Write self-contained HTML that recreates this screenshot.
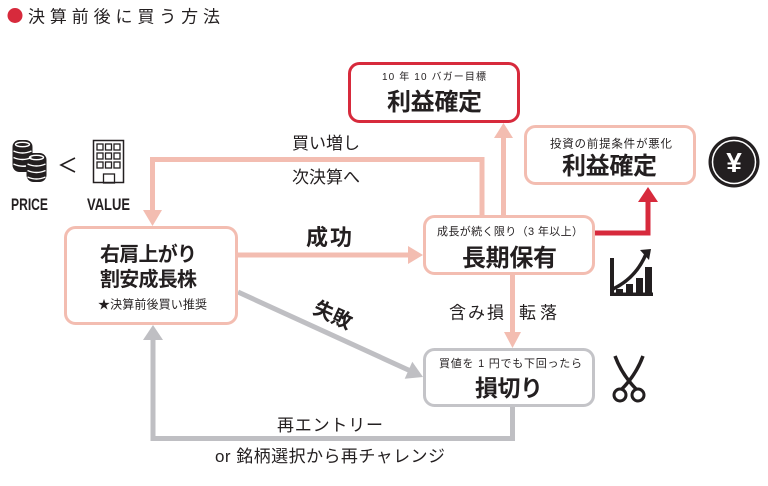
<!DOCTYPE html>
<html><head><meta charset="utf-8"><style>
html,body{margin:0;padding:0;background:#fff;}
svg{display:block;}
text{font-family:"Liberation Sans","Noto Sans CJK JP",sans-serif;fill:#231f20;}
</style></head><body>
<svg width="768" height="486" viewBox="0 0 768 486" xmlns="http://www.w3.org/2000/svg">
<!-- title -->
<circle cx="15" cy="15.5" r="7.5" fill="#d72a3c"/>
<text x="28" y="22.5" font-size="17" textLength="192" lengthAdjust="spacing">決算前後に買う方法</text>

<!-- coins icon -->
<g fill="#231f20">
  <rect x="12.5" y="140" width="20" height="32" rx="7"/>
  <rect x="26.5" y="153" width="20" height="29" rx="7"/>
</g>
<g fill="none" stroke="#fff" stroke-width="1.4">
  <ellipse cx="22.5" cy="144.5" rx="7" ry="2.2"/>
  <path d="M13.5 151 Q22.5 155 31.5 151 M13.5 157.5 Q22.5 161.5 31.5 157.5 M13.5 164 Q20 167 26 166"/>
  <ellipse cx="36.5" cy="157.5" rx="7" ry="2.2"/>
  <path d="M27.5 164 Q36.5 168 45.5 164 M27.5 170.5 Q36.5 174.5 45.5 170.5 M27.5 177 Q36.5 181 45.5 177"/>
</g>
<path d="M75 158 L61 165 L75 172" stroke="#231f20" stroke-width="1.6" fill="none"/>
<!-- building -->
<rect x="93.5" y="140.5" width="30" height="42" fill="none" stroke="#231f20" stroke-width="1.5"/>
<g fill="none" stroke="#231f20" stroke-width="1.3">
  <rect x="97" y="144" width="6" height="6"/><rect x="105.5" y="144" width="6" height="6"/><rect x="114" y="144" width="6" height="6"/>
  <rect x="97" y="153" width="6" height="6"/><rect x="105.5" y="153" width="6" height="6"/><rect x="114" y="153" width="6" height="6"/>
  <rect x="97" y="162" width="6" height="6"/><rect x="105.5" y="162" width="6" height="6"/><rect x="114" y="162" width="6" height="6"/>
  <rect x="103.5" y="174" width="11" height="9"/>
</g>
<text x="11" y="210" font-size="17" font-weight="bold" textLength="37" lengthAdjust="spacingAndGlyphs">PRICE</text>
<text x="87" y="210" font-size="17" font-weight="bold" textLength="43" lengthAdjust="spacingAndGlyphs">VALUE</text>

<!-- connectors pink -->
<g stroke="#f3bdb1" stroke-width="5" fill="none">
  <path d="M482 215 V159.5 H152.5 V211"/>
  <path d="M503.5 215 V137"/>
  <path d="M238 255 H409"/>
  <path d="M512.5 275 V333"/>
</g>
<g fill="#f3bdb1">
  <polygon points="143,210 162,210 152.5,226"/>
  <polygon points="494,138 513,138 503.5,123"/>
  <polygon points="408,246 408,264 423,255"/>
  <polygon points="504,332 521,332 512.5,348"/>
</g>
<!-- red connector -->
<path d="M595 233 H648 V201" stroke="#d72a3c" stroke-width="5" fill="none"/>
<polygon points="638,202 658,202 648,187" fill="#d72a3c"/>
<!-- gray connectors -->
<g stroke="#bfbfc3" stroke-width="5" fill="none">
  <path d="M238 292 L409.5 370.5"/>
  <path d="M512.5 407 V438.5 H153 V339"/>
</g>
<g fill="#bfbfc3">
  <polygon points="412.3,361.8 404.7,378.7 423,377"/>
  <polygon points="143,340 163,340 153,325"/>
</g>

<!-- boxes -->
<rect x="349.5" y="63.5" width="169" height="58" rx="10" fill="#fff" stroke="#d72a3c" stroke-width="3"/>
<rect x="525.5" y="126.5" width="169" height="57" rx="10" fill="#fff" stroke="#f3bdb1" stroke-width="3"/>
<rect x="424.5" y="216.5" width="169" height="57" rx="10" fill="#fff" stroke="#f3bdb1" stroke-width="3"/>
<rect x="424.5" y="349.5" width="169" height="56" rx="10" fill="#fff" stroke="#c4c4c8" stroke-width="3"/>
<rect x="65.5" y="227.5" width="171" height="96" rx="10" fill="#fff" stroke="#f3bdb1" stroke-width="3"/>

<!-- box text -->
<text x="434" y="80" font-size="10" text-anchor="middle" textLength="104" lengthAdjust="spacing">10 年 10 バガー目標</text>
<text x="434.5" y="110" font-size="24" font-weight="bold" text-anchor="middle" textLength="95" lengthAdjust="spacing">利益確定</text>

<text x="611" y="147.5" font-size="11.5" text-anchor="middle" textLength="122" lengthAdjust="spacing">投資の前提条件が悪化</text>
<text x="609.5" y="174" font-size="24" font-weight="bold" text-anchor="middle" textLength="95" lengthAdjust="spacing">利益確定</text>

<text x="510" y="235" font-size="11" text-anchor="middle" textLength="146" lengthAdjust="spacing">成長が続く限り（3 年以上）</text>
<text x="509.5" y="266" font-size="24" font-weight="bold" text-anchor="middle" textLength="95" lengthAdjust="spacing">長期保有</text>

<text x="510.5" y="367" font-size="11" text-anchor="middle" textLength="143" lengthAdjust="spacing">買値を 1 円でも下回ったら</text>
<text x="509" y="396" font-size="23" font-weight="bold" text-anchor="middle" textLength="68" lengthAdjust="spacing">損切り</text>

<text x="148.5" y="261" font-size="20" font-weight="bold" text-anchor="middle" textLength="97" lengthAdjust="spacing">右肩上がり</text>
<text x="148.5" y="286" font-size="20" font-weight="bold" text-anchor="middle" textLength="97" lengthAdjust="spacing">割安成長株</text>
<text x="152.5" y="308.5" font-size="12" text-anchor="middle" textLength="109" lengthAdjust="spacing">★決算前後買い推奨</text>

<!-- connector labels -->
<text x="292" y="149" font-size="17" textLength="68" lengthAdjust="spacing">買い増し</text>
<text x="292" y="183" font-size="17" textLength="68" lengthAdjust="spacing">次決算へ</text>
<text x="306" y="245" font-size="22" font-weight="bold" textLength="46" lengthAdjust="spacing">成功</text>
<text x="333" y="322" font-size="20" font-weight="bold" text-anchor="middle" transform="rotate(25 333 315)">失敗</text>
<text x="449" y="318.5" font-size="17" textLength="55" lengthAdjust="spacing">含み損</text>
<text x="519" y="318.5" font-size="17" textLength="38" lengthAdjust="spacing">転落</text>
<text x="277" y="431" font-size="17" textLength="106" lengthAdjust="spacing">再エントリー</text>
<text x="215" y="462" font-size="17" textLength="230" lengthAdjust="spacing">or 銘柄選択から再チャレンジ</text>

<!-- yen icon -->
<circle cx="734" cy="162" r="25.5" fill="#231f20"/>
<circle cx="734" cy="162" r="21.5" fill="none" stroke="#fff" stroke-width="1.5"/>
<text x="734" y="172" font-size="28" font-weight="bold" text-anchor="middle" style="fill:#fff">¥</text>

<!-- chart icon -->
<g fill="#231f20">
  <rect x="610" y="258" width="4" height="38"/>
  <rect x="610" y="292.5" width="43" height="3.5"/>
  <rect x="616" y="289" width="7" height="4"/>
  <rect x="626" y="284" width="7" height="9"/>
  <rect x="636" y="278" width="7" height="15"/>
  <rect x="645" y="267" width="7" height="26"/>
  <polygon points="640,250 651,249 649,260"/>
</g>
<path d="M613 289 Q636 278 646 254" stroke="#231f20" stroke-width="3.5" fill="none"/>

<!-- scissors -->
<g stroke="#231f20" fill="none">
  <path d="M615 356 Q622 375 637 390" stroke-width="3.5"/>
  <path d="M643 356 Q636 375 621 390" stroke-width="3.5"/>
  <circle cx="620" cy="395" r="6" stroke-width="3"/>
  <circle cx="638" cy="395" r="6" stroke-width="3"/>
</g>
</svg>
</body></html>
